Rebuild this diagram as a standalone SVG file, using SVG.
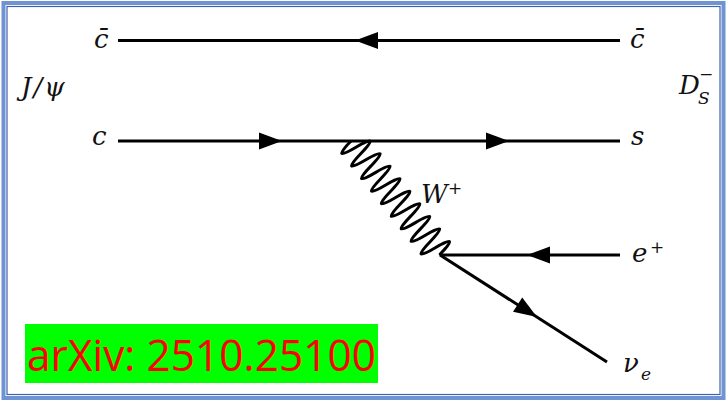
<svg xmlns="http://www.w3.org/2000/svg" width="728" height="401" viewBox="0 0 728 401">
<style>
.lbl{font-family:"DejaVu Serif","Liberation Serif",serif;font-style:italic;font-size:26px;fill:#111}
.sm{font-family:"DejaVu Serif","Liberation Serif",serif;font-style:italic;font-size:17px;fill:#111}
.ln{stroke:#000;stroke-width:3;fill:none;stroke-linecap:butt}
.ah{fill:#000}
</style>
<defs>
<path id="ah" d="M0,0 L-23,-8.5 L-23,8.5 Z"/>
</defs>
<rect width="728" height="401" fill="#fff"/>
<g id="frame">
<rect x="3.5" y="3" width="720" height="395" fill="none" stroke="#6f93d3" stroke-width="4"/>
<rect x="7" y="6.5" width="713" height="388" fill="none" stroke="#3d63b0" stroke-width="1.2"/>
</g>
<g id="connectors">
<line class="ln" x1="118" y1="40.5" x2="620" y2="40.5"/>
<use href="#ah" class="ah" transform="translate(355,40.5) rotate(180)"/>
<line class="ln" x1="118" y1="141" x2="620" y2="141"/>
<use href="#ah" class="ah" transform="translate(282,141)"/>
<use href="#ah" class="ah" transform="translate(509,141)"/>
<path class="ln" stroke-width="2.8" stroke-linejoin="round" transform="translate(351,141) rotate(51.7)" d="M0,0 c2.67,20 5.33,20 8,0 s5.33,-20 8,0 s5.33,20 8,0 s5.33,-20 8,0 s5.33,20 8,0 s5.33,-20 8,0 s5.33,20 8,0 s5.33,-20 8,0 s5.33,20 8,0 s5.33,-20 8,0 s5.33,20 8,0 s5.33,-20 8,0 s5.33,20 8,0 s5.33,-20 8,0 s5.33,20 8,0 s5.33,-20 8,0 s5.33,20 8,0 s5.33,-20 8,0 l1,0"/>
<line class="ln" x1="440" y1="255" x2="620" y2="255"/>
<use href="#ah" class="ah" transform="translate(527,255) rotate(180)"/>
<line class="ln" x1="440" y1="255" x2="607" y2="362"/>
<use href="#ah" class="ah" transform="translate(537,317) rotate(32.65)"/>
</g>
<g id="cbar-left"><text class="lbl" x="94" y="48">c̄</text></g>
<g id="cbar-right"><text class="lbl" x="630" y="48">c̄</text></g>
<g id="jpsi"><text class="lbl" x="21" y="96" letter-spacing="2">J/ψ</text></g>
<g id="c-left"><text class="lbl" x="92" y="145">c</text></g>
<g id="s-right"><text class="lbl" x="631" y="145">s</text></g>
<g id="ds">
<text class="lbl" x="679" y="94">D</text>
<text class="sm" x="698" y="104">S</text>
<text class="sm" x="699" y="80">−</text>
</g>
<g id="wplus"><text class="lbl" x="421" y="203">W</text><text class="sm" x="448" y="194">+</text></g>
<g id="eplus"><text class="lbl" x="632" y="262">e</text><text class="sm" x="650" y="253">+</text></g>
<g id="nue"><text class="lbl" x="623" y="372">ν</text><text class="sm" x="641" y="380">e</text></g>
<g id="arxiv">
<rect x="25" y="324" width="353" height="59" fill="#00ff00"/>
<text x="27" y="371" font-family="'Open Sans','Liberation Sans',sans-serif" font-size="44" fill="#ff0000" textLength="349" lengthAdjust="spacingAndGlyphs">arXiv: 2510.25100</text>
</g>
</svg>
